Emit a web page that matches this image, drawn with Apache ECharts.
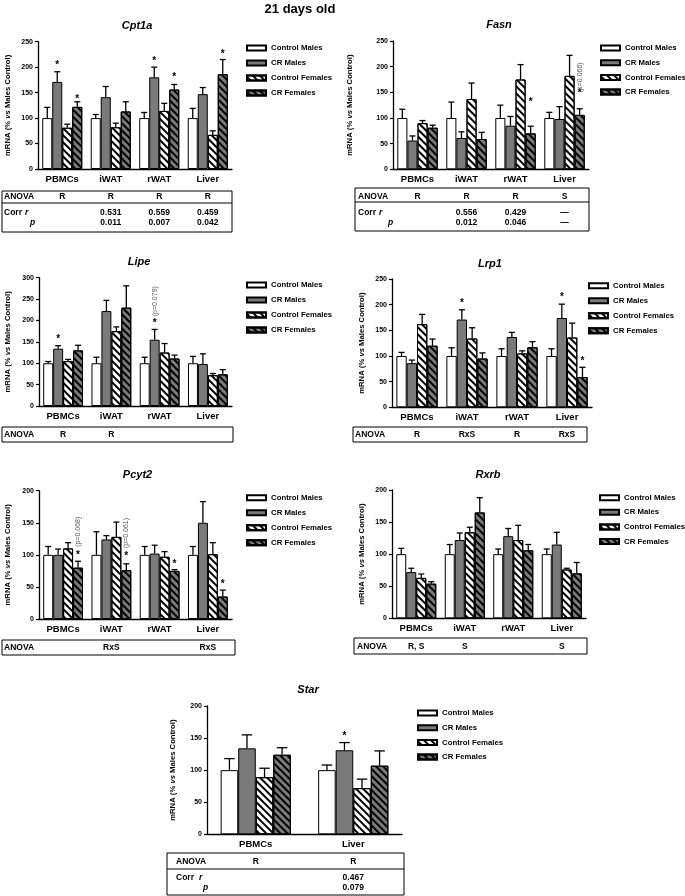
<!DOCTYPE html>
<html><head><meta charset="utf-8">
<script src="https://cdn.jsdelivr.net/npm/echarts@6/dist/echarts.min.js"></script>
<style>html,body{margin:0;padding:0;background:#fff}#c{width:685px;height:896px}</style>
</head><body><div id="c"></div>
<script>
// ---------- DATA ----------
const seriesNames = ['Control Males', 'CR Males', 'Control Females', 'CR Females'];
const tissues4 = ['PBMCs', 'iWAT', 'rWAT', 'Liver'];
const tissues2 = ['PBMCs', 'Liver'];
const mainTitle = '21 days old';

// means: rows = series (CM, CRM, CF, CRF), cols = tissues ; sems = upper error
const cpt1aMeans = [[100,100,100,100],[171,141,180,147],[81,82,114,67],[122,113,156,186]];
const cpt1aSems  = [[21,7,11,19],[20,21,20,13],[7,8,15,8],[10,19,10,29]];
const cpt1aStars = [[0,1,209],[0,3,142],[2,1,217],[2,3,185],[3,3,230]];
const cpt1aAnova = ['R','R','R','R'];
const cpt1aCorrR = ['','0.531','0.559','0.459'];
const cpt1aCorrP = ['','0.011','0.007','0.042'];

const fasnMeans = [[100,100,100,100],[56,61,85,98],[90,137,175,182],[81,59,70,106]];
const fasnSems  = [[17,31,25,11],[9,12,18,24],[5,31,29,40],[5,13,14,12]];
const fasnStars = [[2,3,136],[3,3,153]];
const fasnNotes = [[3,3,179,'(p=0.066)']];
const fasnAnova = ['R','R','R','S'];
const fasnCorrR = ['','0.556','0.429','\u2014'];
const fasnCorrP = ['','0.012','0.046','\u2014'];

const lipeMeans = [[100,100,100,100],[134,222,155,98],[105,175,125,72],[130,230,111,74]];
const lipeSems  = [[4,14,14,16],[7,25,24,24],[4,10,21,4],[12,51,8,11]];
const lipeStars = [[0,1,162],[2,1,199]];
const lipeNotes = [[2,1,245,'(p=0.079)']];
const lipeAnova = ['R','R','',''];

const lrp1Means = [[100,100,100,100],[86,171,137,174],[162,134,105,136],[120,95,117,59]];
const lrp1Sems  = [[7,16,14,14],[6,19,9,27],[19,21,5,28],[13,11,11,19]];
const lrp1Stars = [[1,1,207],[3,1,219],[3,3,95]];
const lrp1Anova = ['R','RxS','R','RxS'];

const pcyt2Means = [[100,100,100,100],[100,124,102,150],[110,128,97,101],[80,76,75,35]];
const pcyt2Sems  = [[13,36,13,13],[9,6,13,33],[9,23,8,18],[10,10,2,10]];
const pcyt2Stars = [[0,3,103],[1,3,101],[2,3,90],[3,3,58]];
const pcyt2Notes = [[0,3,136,'(p=0.068)'],[1,3,134,'(p=0.061)']];
const pcyt2Anova = ['','RxS','','RxS'];

const rxrbMeans = [[100,100,100,100],[72,122,128,115],[63,134,122,76],[54,165,106,70]];
const rxrbSems  = [[9,15,8,8],[6,11,12,19],[6,8,23,2],[3,23,9,17]];
const rxrbStars = [];
const rxrbAnova = ['R, S','S','','S'];

const starMeans = [[100,100],[134,131],[89,72],[124,107]];
const starSems  = [[18,8],[21,12],[14,14],[11,23]];
const starStars = [[1,1,157]];
const starAnova = ['R','R'];
const starCorrR = ['','0.467'];
const starCorrP = ['','0.079'];

const yTicksMax = {Cpt1a:250, Fasn:250, Lipe:300, Lrp1:250, Pcyt2:200, Rxrb:200, Star:200};

// ---------- LAYOUT ----------
const FONT = '"Liberation Sans", Arial, sans-serif';
const panels = [
  {gene:'Cpt1a', cats:tissues4, means:cpt1aMeans, sems:cpt1aSems, stars:cpt1aStars, notes:[], anova:cpt1aAnova, corrR:cpt1aCorrR, corrP:cpt1aCorrP,
   grid:{left:38, top:41.7, width:194, height:127.3}, gap:0.175, nameGap:26, title:[137,26], legend:[246,43], lgap:5,
   table:{x:2,y:191,w:230,h:41,line:203,anovaY:197,rY:213,pY:223,labX:4,rX:25,pX:30}},
  {gene:'Fasn', cats:tissues4, means:fasnMeans, sems:fasnSems, stars:fasnStars, notes:fasnNotes, anova:fasnAnova, corrR:fasnCorrR, corrP:fasnCorrP,
   grid:{left:393, top:41, width:196, height:128.3}, gap:0.175, nameGap:39, title:[499,25], legend:[600,43], lgap:4.7,
   table:{x:355,y:188,w:234,h:43,line:202,anovaY:197,rY:213,pY:222.5,labX:358,rX:379,pX:388}},
  {gene:'Lipe', cats:tissues4, means:lipeMeans, sems:lipeSems, stars:lipeStars, notes:lipeNotes, anova:lipeAnova,
   grid:{left:39, top:277.7, width:193, height:128.3}, gap:0.175, nameGap:27, title:[139,262], legend:[246,280], lgap:5,
   table:{x:2,y:427,w:231,h:15,anovaY:434.5,labX:4}},
  {gene:'Lrp1', cats:tissues4, means:lrp1Means, sems:lrp1Sems, stars:lrp1Stars, notes:[], anova:lrp1Anova,
   grid:{left:392, top:279, width:200, height:128.3}, gap:0.175, nameGap:26.5, title:[490,264], legend:[588,280.7], lgap:5,
   table:{x:353,y:427,w:234,h:15,anovaY:435,labX:355}},
  {gene:'Pcyt2', cats:tissues4, means:pcyt2Means, sems:pcyt2Sems, stars:pcyt2Stars, notes:pcyt2Notes, anova:pcyt2Anova,
   grid:{left:39, top:490.7, width:193, height:128.3}, gap:0.175, nameGap:27, title:[137.5,475], legend:[246,492.7], lgap:5,
   table:{x:2,y:640,w:233,h:15,anovaY:648,labX:4}},
  {gene:'Rxrb', cats:tissues4, means:rxrbMeans, sems:rxrbSems, stars:rxrbStars, notes:[], anova:rxrbAnova,
   grid:{left:392, top:490, width:194, height:128.3}, gap:0.175, nameGap:26, title:[488,475], legend:[599,492.7], lgap:4.6,
   table:{x:354,y:638,w:233,h:16,anovaY:646.5,labX:357}},
  {gene:'Star', cats:tissues2, means:starMeans, sems:starSems, stars:starStars, notes:[], anova:starAnova, corrR:starCorrR, corrP:starCorrP,
   grid:{left:207, top:706, width:195, height:128.3}, gap:0.28, nameGap:30, title:[308,690], legend:[417,708], lgap:4.7,
   table:{x:167,y:853,w:237,h:42,line:869,anovaY:862,rY:878,pY:888,labX:176,rX:199,pX:203}}
];

const GRAY = '#7a7a7a';
// positive rotation (canvas DOMMatrix, clockwise) turns horizontal stripes into "\\\\" hatching
const hatch = {symbol:'rect', symbolSize:1, dashArrayX:[1,0], dashArrayY:[1.6,2.6], rotation:Math.PI/4, color:'#000'};
const barStyles = [
  {color:'#ffffff', borderColor:'#000', borderWidth:1},
  {color:GRAY, borderColor:'#000', borderWidth:1},
  {color:'#ffffff', borderColor:'#000', borderWidth:1, decal:hatch},
  {color:GRAY, borderColor:'#000', borderWidth:1, decal:hatch}
];

const option = {animation:false, backgroundColor:'#fff', grid:[], xAxis:[], yAxis:[], series:[], legend:[], graphic:[]};

function barX(api, cat, s, gap, nSeries) {
  const band = api.size([1,0])[0];
  const group = band * (1 - gap);
  const bw = group / nSeries;
  const c = api.coord([cat, 0])[0];
  return {x: c - group/2 + bw*(s+0.5), bw: bw};
}

panels.forEach((p, i) => {
  option.grid.push(Object.assign({containLabel:false}, p.grid));
  option.xAxis.push({type:'category', gridIndex:i, data:p.cats,
    axisLine:{lineStyle:{color:'#000', width:1.3}}, axisTick:{show:false},
    axisLabel:{color:'#000', fontSize:9.5, fontWeight:'bold', fontFamily:FONT, margin:5}, splitLine:{show:false}});
  option.yAxis.push({type:'value', gridIndex:i, min:0, max:yTicksMax[p.gene], interval:50,
    axisLine:{show:true, lineStyle:{color:'#000', width:1.3}},
    axisTick:{show:true, length:3, lineStyle:{color:'#000', width:1.2}},
    axisLabel:{color:'#000', fontSize:7, fontWeight:'bold', fontFamily:FONT, margin:5},
    splitLine:{show:false},
    name:'{a|mRNA (% }{b|vs}{a| Males Control)}', nameLocation:'middle', nameRotate:90, nameGap:p.nameGap,
    nameTextStyle:{rich:{a:{fontSize:7.7, fontWeight:'bold', fontFamily:FONT, color:'#000'},
                         b:{fontSize:7.7, fontWeight:'bold', fontStyle:'italic', fontFamily:FONT, color:'#000'}}}});
  p.means.forEach((vals, s) => {
    option.series.push({type:'bar', name:seriesNames[s], xAxisIndex:i, yAxisIndex:i, data:vals,
      barGap:'0%', barCategoryGap:(p.gap*100)+'%', itemStyle:barStyles[s], silent:true});
  });
  // error bars (upper only)
  const errData = [];
  p.means.forEach((vals, s) => vals.forEach((m, c) => errData.push([c, s, m, p.sems[s][c]])));
  const nS = p.means.length, gap = p.gap;
  option.series.push({type:'custom', xAxisIndex:i, yAxisIndex:i, data:errData, silent:true, z:5,
    encode:{x:0, y:2},
    renderItem:function(params, api){
      const c = api.value(0), s = api.value(1), m = api.value(2), e = api.value(3);
      const b = barX(api, c, s, gap, nS);
      const y0 = api.coord([c, m])[1], y1 = api.coord([c, m+e])[1];
      const cap = b.bw * 0.6;
      return {type:'group', children:[
        {type:'line', shape:{x1:b.x, y1:y0, x2:b.x, y2:y1}, style:{stroke:'#000', lineWidth:1.3}},
        {type:'line', shape:{x1:b.x-cap/2, y1:y1, x2:b.x+cap/2, y2:y1}, style:{stroke:'#000', lineWidth:1.3}}
      ]};
    }});
  // significance stars
  if (p.stars.length) {
    option.series.push({type:'custom', xAxisIndex:i, yAxisIndex:i, data:p.stars, silent:true, z:6,
      encode:{x:0, y:2},
      renderItem:function(params, api){
        const c = api.value(0), s = api.value(1), v = api.value(2);
        const b = barX(api, c, s, gap, nS);
        const y = api.coord([c, v])[1];
        return {type:'text', x:b.x, y:y+2.5, style:{text:'*', font:'bold 10px ' + FONT, fill:'#000',
          align:'center', verticalAlign:'middle', textAlign:'center', textVerticalAlign:'middle'}};
      }});
  }
  if (p.notes.length) {
    const notes = p.notes;
    option.series.push({type:'custom', xAxisIndex:i, yAxisIndex:i, data:notes.map(n => [n[0], n[1], n[2]]), silent:true, z:6,
      encode:{x:0, y:2},
      renderItem:function(params, api){
        const c = api.value(0), s = api.value(1), v = api.value(2);
        const b = barX(api, c, s, gap, nS);
        const y = api.coord([c, v])[1];
        return {type:'text', x:b.x, y:y, rotation:Math.PI/2,
          style:{text:notes[params.dataIndex][3], font:'7px ' + FONT, fill:'#555',
          align:'center', verticalAlign:'middle', textAlign:'center', textVerticalAlign:'middle'}};
      }});
  }
  option.legend.push({data:seriesNames, orient:'vertical', left:p.legend[0], top:p.legend[1],
    itemWidth:19, itemHeight:5, itemGap:p.lgap,
    padding:0, selectedMode:false, icon:'rect',
    textStyle:{fontSize:7.8, fontWeight:'bold', fontFamily:FONT, color:'#000', lineHeight:10}});

  // titles & tables
  const G = option.graphic;
  G.push({type:'text', x:p.title[0], y:p.title[1], style:{text:p.gene, font:'italic bold 11px ' + FONT, fill:'#000',
    align:'center', verticalAlign:'middle', textAlign:'center', textVerticalAlign:'middle'}});
  const t = p.table;
  G.push({type:'rect', shape:{x:t.x, y:t.y, width:t.w, height:t.h}, style:{fill:'none', stroke:'#000', lineWidth:1}});
  const band = p.grid.width / p.cats.length;
  const colX = p.cats.map((_, k) => p.grid.left + band*(k+0.5));
  const txt = (x, y, s, font, align) => G.push({type:'text', x:x, y:y, style:{text:s, font:font, fill:'#000',
    align:align||'center', verticalAlign:'middle', textAlign:align||'center', textVerticalAlign:'middle'}});
  const TF = 'bold 8.5px ' + FONT;
  txt(t.labX, t.anovaY, 'ANOVA', TF, 'left');
  p.anova.forEach((a, k) => { if (a) txt(colX[k], t.anovaY, a, TF); });
  if (p.corrR) {
    G.push({type:'line', shape:{x1:t.x, y1:t.line, x2:t.x+t.w, y2:t.line}, style:{stroke:'#000', lineWidth:1}});
    txt(t.labX, t.rY, 'Corr', TF, 'left');
    txt(t.rX, t.rY, 'r', 'italic bold 8.5px ' + FONT, 'left');
    txt(t.pX, t.pY, 'p', 'italic bold 8.5px ' + FONT, 'left');
    p.corrR.forEach((a, k) => { if (a) txt(colX[k], t.rY, a, TF); });
    p.corrP.forEach((a, k) => { if (a) txt(colX[k], t.pY, a, TF); });
  }
});
option.graphic.push({type:'text', x:300, y:9, style:{text:mainTitle, font:'bold 13px ' + FONT, fill:'#000',
  align:'center', verticalAlign:'middle', textAlign:'center', textVerticalAlign:'middle'}});

const chart = echarts.init(document.getElementById('c'), null, {renderer:'canvas'});
chart.setOption(option);
</script>
</body></html>
